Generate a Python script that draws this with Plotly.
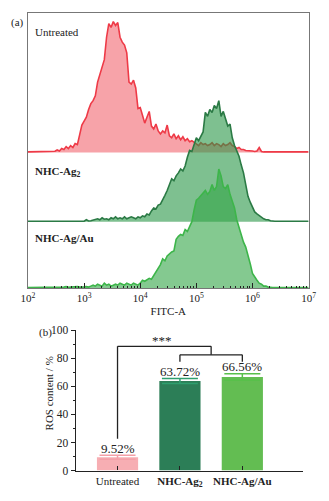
import numpy as np
import plotly.graph_objects as go

# ---------------- data ----------------
# flow cytometry histogram: log10(FITC-A) bin centres, 0.04 decade bins from 10^2 to 10^7
bin_log10 = np.round(2.0 + 0.04 * np.arange(126), 2)

untreated_counts = [
    0.5, 0.5, 0.5, 0.6, 0.5, 0.5, 0.6, 0.5, 0.7, 0.6, 0.8, 0.7,
    1.2, 2.5, 1.5, 4, 3, 6, 4, 7, 5, 9, 8, 18, 28, 32, 36, 44, 50, 53,
    58, 72, 80, 88, 95, 118, 132, 128, 134, 130, 133, 118, 113, 110, 102,
    72, 70, 74, 66, 45, 46, 38, 30, 36, 42, 27, 24, 29, 22, 19, 22, 20, 28,
    17, 15, 19, 14, 17, 13, 16, 12, 14, 11, 12, 10,
    9, 7, 10, 8, 9, 7, 8, 10, 7, 9, 8, 6, 9, 7, 8, 10, 7, 6,
    4, 5, 3, 3, 2, 2, 1.5, 1.5, 1, 1.5, 5, 1,
    0.5, 0.5, 0.6, 0.5, 0.5, 0.6, 0.5, 0.5, 0.5, 0.6, 0.5, 0.5, 0.5, 0.5, 0.5, 0.5, 0.5, 0.5, 0.5, 0.5, 0.5,
]

ag2_counts = [
    0.5, 0.5, 0.5, 0.5, 0.5, 0.5, 0.5, 0.5, 0.5, 0.5, 0.5, 0.5, 0.5,
    0.5, 0.6, 0.5, 0.5, 0.6, 0.5, 0.5, 0.7, 0.5, 0.6, 0.5, 0.6, 0.5,
    2, 0.8, 1, 1.5, 2, 3, 2, 4, 2.5, 3, 2, 4, 3, 5, 3, 4, 3, 5, 3, 4, 5, 4, 3, 5,
    4, 6, 5, 8, 7, 11, 14, 13, 17, 18, 22, 27, 32, 38, 44, 42, 47, 50, 54, 52,
    57, 66, 73, 72, 79, 86, 83, 88, 92, 112, 108, 115, 112, 119, 116, 124, 108,
    113, 104, 98, 100, 86, 78, 72, 67, 58, 50, 38, 26, 20, 14, 10, 8, 6, 4, 3,
    2, 2, 1, 0.5, 0.5, 0.5, 0.5, 0.5, 0.5, 0.5, 0.5, 0.5, 0.5, 0.5, 0.5, 0.5, 0.5, 0.5, 0.5, 0.5, 0.5,
]

agau_counts = [
    0.5, 0.5, 0.5, 0.5, 0.5, 0.5, 0.5, 0.5, 0.5, 0.5, 0.5, 0.5,
    1, 0.7, 1.2, 0.8, 1, 1.5, 0.8, 1, 1.2, 0.8, 1.5, 1, 0.8, 1.2,
    1.5, 1, 2, 3, 2, 4, 3, 2, 5, 3, 4, 2, 3, 4, 3, 5, 4, 3, 5, 4, 3, 5, 4, 3,
    5, 8, 7, 9, 10, 9, 13, 17, 20, 24, 30, 28, 33, 35, 37, 38, 50, 53, 55, 54,
    60, 58, 63, 68, 80, 90, 92, 95, 98, 100, 96, 99, 106, 100, 104, 122, 115,
    104, 102, 106, 96, 90, 82, 70, 62, 56, 47, 42, 34, 25, 15, 11, 8, 5, 4, 2,
    2, 1, 0.5, 0.5, 0.5, 0.5, 0.5, 0.5, 0.5, 0.5, 0.5, 0.5, 0.5, 0.5, 0.5, 0.5, 0.5, 0.5, 0.5, 0.5,
]

hist_names = ["Untreated", "NHC-Ag<sub>2</sub>", "NHC-Ag/Au"]
hist_offsets = [139, 68, 0]  # vertical stacking offsets (count units)

# log-axis tick positions
major_ticks = [1e2, 1e3, 1e4, 1e5, 1e6, 1e7]
major_ticktext = ["10<sup>2</sup>", "10<sup>3</sup>", "10<sup>4</sup>", "10<sup>5</sup>",
                  "10<sup>6</sup>", "10<sup>7</sup>"]
minor_ticks = [m * d for d in major_ticks[:-1] for m in range(2, 10)]

# ROS bar chart
bar_categories = ["Untreated", "NHC-Ag2", "NHC-Ag/Au"]
bar_ticktext = ["Untreated", "<b>NHC-Ag<sub>2</sub></b>", "<b>NHC-Ag/Au</b>"]
ros_values = [9.52, 63.72, 66.56]
ros_errors = [1.4, 1.8, 2.3]
ros_labels = ["9.52%", "63.72%", "66.56%"]

# significance bracket levels (% units)
sig_top = 88.4
sig_sub = 82.4
sig_leg_low = 77.5
sig_left_low = 22.7

# ---------------- style ----------------
FONT = "Liberation Serif"
line_colors = ["#EE3A47", "#2B7A45", "#3DB54A"]
fill_colors = ["rgba(238,50,65,0.45)", "rgba(40,150,70,0.6)", "rgba(50,165,70,0.6)"]
bar_colors = ["#F7AEB3", "#2C7E57", "#63BD52"]
err_colors = ["#F4A0A8", "#2E9E6E", "#58C04A"]

W, H = 329, 501
fig = go.Figure()

x_fitc = 10 ** bin_log10
for name, counts, off, lc, fc in zip(hist_names, [untreated_counts, ag2_counts, agau_counts],
                                     hist_offsets, line_colors, fill_colors):
    fig.add_trace(go.Scatter(x=x_fitc, y=[off] * len(x_fitc), mode="lines",
                             line=dict(width=0, color=lc), showlegend=False,
                             hoverinfo="skip", xaxis="x", yaxis="y"))
    fig.add_trace(go.Scatter(x=x_fitc, y=np.array(counts) + off, mode="lines",
                             line=dict(width=1.6, color=lc), fill="tonexty",
                             fillcolor=fc, name=name, showlegend=False,
                             xaxis="x", yaxis="y"))

for cat, v, e, bc, ec in zip(bar_categories, ros_values, ros_errors, bar_colors, err_colors):
    fig.add_trace(go.Bar(x=[cat], y=[v], width=0.66, marker=dict(color=bc, line=dict(width=0)),
                         error_y=dict(type="data", array=[e], color=ec, thickness=1.5, width=18),
                         showlegend=False, xaxis="x2", yaxis="y2"))

# ---------------- layout ----------------
top_dom_y = [1 - 289 / H, 1 - 7 / H]
bot_dom_y = [1 - 476 / H, 1 - 332 / H]

fig.update_layout(
    width=W, height=H, margin=dict(l=0, r=0, t=0, b=0),
    paper_bgcolor="white", plot_bgcolor="white",
    font=dict(family=FONT, size=11, color="#222"),
    barmode="overlay",
    xaxis=dict(domain=[22 / W, 316 / W], type="log", range=[2, 7],
               showline=True, linecolor="#777", linewidth=1, mirror=True,
               showgrid=False, zeroline=False,
               tickmode="array", tickvals=major_ticks, ticktext=major_ticktext,
               ticks="inside", ticklen=5, tickcolor="#222", tickwidth=1,
               minor=dict(tickmode="array", tickvals=minor_ticks, ticks="inside", ticklen=2.5,
                          tickcolor="#222", tickwidth=1, showgrid=False),
               tickfont=dict(size=11, family=FONT, color="#222"),
               title=dict(text="FITC-A", font=dict(size=11, family=FONT, color="#222"), standoff=4),
               layer="above traces", anchor="y"),
    yaxis=dict(domain=top_dom_y, range=[0, 282], showline=True, linecolor="#777", linewidth=1,
               mirror=True, showgrid=False, zeroline=False, showticklabels=False, ticks="",
               anchor="x"),
    xaxis2=dict(domain=[72 / W, 310 / W], type="category", range=[-0.67, 2.97],
                showline=True, linecolor="#222", linewidth=1.2, showgrid=False, zeroline=False,
                ticks="inside", ticklen=4, tickcolor="#222",
                tickvals=bar_categories, ticktext=bar_ticktext,
                tickfont=dict(size=11, family=FONT, color="#222"), anchor="y2"),
    yaxis2=dict(domain=bot_dom_y, range=[0, 100], showline=True, linecolor="#222", linewidth=1.2,
                showgrid=False, zeroline=False, ticks="outside", ticklen=4, tickcolor="#222",
                dtick=20, tickfont=dict(size=11.5, family=FONT, color="#222"),
                minor=dict(ticks="outside", ticklen=2, dtick=10, tickcolor="#222", showgrid=False),
                anchor="x2"),
)

# histogram labels
ann = []
label_y = [0.929, 0.422, 0.181]
for txt, yy, bold in zip(hist_names, label_y, [False, True, True]):
    ann.append(dict(text=f"<b>{txt}</b>" if bold else txt, xref="x domain", yref="y domain",
                    x=0.017, y=yy, xanchor="left", yanchor="middle", showarrow=False,
                    font=dict(size=11, family=FONT, color="#222")))
ann.append(dict(text="(a)", xref="paper", yref="paper", x=2 / W, y=1 - 17 / H,
                xanchor="left", yanchor="middle", showarrow=False, font=dict(size=11, family=FONT)))
ann.append(dict(text="(b)", xref="paper", yref="paper", x=31 / W, y=1 - 334 / H,
                xanchor="left", yanchor="middle", showarrow=False, font=dict(size=11, family=FONT)))
ann.append(dict(text="ROS content / %", xref="paper", yref="paper", x=45 / W, y=1 - 397 / H,
                textangle=-90, xanchor="center", yanchor="middle", showarrow=False,
                font=dict(size=11, family=FONT, color="#222")))
for i, (v, e, lab) in enumerate(zip(ros_values, ros_errors, ros_labels)):
    ann.append(dict(text=lab, xref="x2", yref="y2", x=i, y=v + e + 5, showarrow=False,
                    xanchor="center", yanchor="middle", font=dict(size=13, family=FONT, color="#222")))
ann.append(dict(text="***", xref="x2", yref="y2", x=0.72, y=sig_top + 4.5, showarrow=False,
                xanchor="center", yanchor="middle", font=dict(size=13, family=FONT, color="#222")))
fig.update_layout(annotations=ann)

# significance bracket
br = dict(color="#222", width=1.3)
shapes = [
    dict(type="line", xref="x2", yref="y2", x0=0, x1=0, y0=sig_left_low, y1=sig_top, line=br),
    dict(type="line", xref="x2", yref="y2", x0=0, x1=1.5, y0=sig_top, y1=sig_top, line=br),
    dict(type="line", xref="x2", yref="y2", x0=1.5, x1=1.5, y0=sig_sub, y1=sig_top, line=br),
    dict(type="line", xref="x2", yref="y2", x0=1, x1=2, y0=sig_sub, y1=sig_sub, line=br),
    dict(type="line", xref="x2", yref="y2", x0=1, x1=1, y0=sig_leg_low, y1=sig_sub, line=br),
    dict(type="line", xref="x2", yref="y2", x0=2, x1=2, y0=sig_leg_low, y1=sig_sub, line=br),
]
fig.update_layout(shapes=shapes)

fig.write_html("out.html", config={"displayModeBar": False},
               post_script="document.body.style.margin='0';")
